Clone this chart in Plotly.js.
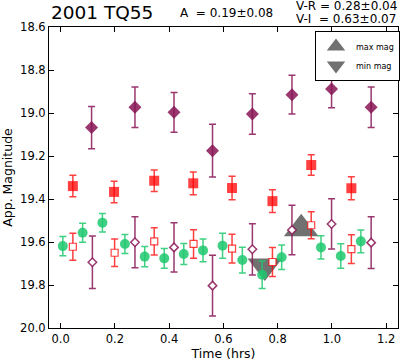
<!DOCTYPE html>
<html>
<head>
<meta charset="utf-8">
<script src="https://cdn.plot.ly/plotly-3.0.1.min.js"></script>
<style>html,body{margin:0;padding:0;background:#fff;}#chart{width:400px;height:362px;}</style>
</head>
<body>
<div id="chart"></div>
<script>
// Time (hrs) and apparent magnitudes
var tFilledDiamond = [0.114, 0.274, 0.418, 0.560, 0.707, 0.853, 0.999, 1.145];
var magFilledDiamond = [19.068, 18.973, 18.997, 19.175, 19.005, 18.915, 18.888, 18.973];
var errFilledDiamond = [0.098, 0.094, 0.092, 0.123, 0.094, 0.090, 0.088, 0.094];

var tFilledSquare = [0.045, 0.197, 0.345, 0.489, 0.632, 0.781, 0.924, 1.072];
var magFilledSquare = [19.340, 19.367, 19.315, 19.327, 19.349, 19.410, 19.242, 19.350];
var errFilledSquare = [0.050, 0.050, 0.050, 0.053, 0.055, 0.053, 0.048, 0.053];

var tOpenSquare = [0.045, 0.199, 0.345, 0.490, 0.632, 0.781, 0.924, 1.072];
var magOpenSquare = [19.622, 19.650, 19.597, 19.609, 19.631, 19.693, 19.522, 19.633];
var errOpenSquare = [0.063, 0.064, 0.063, 0.066, 0.067, 0.067, 0.063, 0.067];

var tOpenDiamond = [0.117, 0.274, 0.418, 0.560, 0.707, 0.853, 0.999, 1.145];
var magOpenDiamond = [19.694, 19.601, 19.625, 19.803, 19.634, 19.544, 19.516, 19.603];
var errOpenDiamond = [0.122, 0.119, 0.115, 0.141, 0.119, 0.115, 0.117, 0.120];

var tCircle = [0.008, 0.081, 0.154, 0.237, 0.310, 0.382, 0.454, 0.525, 0.597, 0.670, 0.743, 0.815, 0.960, 1.033, 1.107];
var magCircle = [19.619, 19.557, 19.510, 19.609, 19.668, 19.676, 19.656, 19.639, 19.617, 19.684, 19.752, 19.671, 19.625, 19.665, 19.597];
var errCircle = [0.045, 0.044, 0.043, 0.044, 0.047, 0.046, 0.049, 0.053, 0.058, 0.060, 0.064, 0.057, 0.054, 0.057, 0.053];

var tMax = [0.887], magMax = [19.538];
var tMin = [0.753], magMin = [19.712];

var xTicks = [0.0, 0.2, 0.4, 0.6, 0.8, 1.0, 1.2];
var yTicks = [18.6, 18.8, 19.0, 19.2, 19.4, 19.6, 19.8, 20.0];

var titleText = '2001 TQ55';
var ampText = 'A  = 0.19\u00b10.08';
var vrText = 'V-R = 0.28\u00b10.04';
var viText = 'V-I  = 0.63\u00b10.07';

var purple = 'rgba(135,20,85,0.85)';
var red = 'rgba(255,0,0,0.75)';
var green = 'rgba(30,200,110,0.85)';
var grey = 'rgba(105,105,105,0.95)';

function eb(arr, color) {
  return {type: 'data', array: arr, visible: true, color: color, thickness: 1.5, width: 3.5};
}

var traces = [
  {x: tMax, y: magMax, mode: 'markers', name: 'max mag', showlegend: true,
   marker: {symbol: 'triangle-up', size: 30, color: grey}},
  {x: tMin, y: magMin, mode: 'markers', name: 'min mag', showlegend: true,
   marker: {symbol: 'triangle-down', size: 30, color: grey}},
  {x: tFilledDiamond, y: magFilledDiamond, mode: 'markers', showlegend: false,
   error_y: eb(errFilledDiamond, purple),
   marker: {symbol: 'diamond', size: 10, color: purple}},
  {x: tFilledSquare, y: magFilledSquare, mode: 'markers', showlegend: false,
   error_y: eb(errFilledSquare, red),
   marker: {symbol: 'square', size: 10, color: red}},
  {x: tOpenDiamond, y: magOpenDiamond, mode: 'markers', showlegend: false,
   error_y: eb(errOpenDiamond, purple),
   marker: {symbol: 'diamond', size: 6.5, color: 'white', line: {color: purple, width: 1.5}}},
  {x: tOpenSquare, y: magOpenSquare, mode: 'markers', showlegend: false,
   error_y: eb(errOpenSquare, red),
   marker: {symbol: 'square', size: 7, color: 'white', line: {color: red, width: 1.2}}},
  {x: tCircle, y: magCircle, mode: 'markers', showlegend: false,
   error_y: eb(errCircle, green),
   marker: {symbol: 'circle', size: 10, color: green}}
];

var fontFam = 'DejaVu Sans, sans-serif';
var axisCommon = {
  showgrid: false, zeroline: false, showline: true, linecolor: 'black', linewidth: 1,
  mirror: 'ticks', ticks: 'inside', ticklen: 5, tickcolor: 'black', tickwidth: 1,
  tickfont: {family: fontFam, size: 11.5, color: 'black'}
};

var layout = {
  width: 400, height: 362, autosize: false,
  margin: {l: 49, r: 1, t: 27, b: 34},
  paper_bgcolor: 'white', plot_bgcolor: 'white',
  font: {family: fontFam, color: 'black'},
  xaxis: Object.assign({}, axisCommon, {
    range: [-0.043, 1.244], tickvals: xTicks, ticktext: xTicks.map(function(v){return v.toFixed(1);}),
    title: {text: 'Time (hrs)', font: {family: fontFam, size: 12.5}, standoff: 2}
  }),
  yaxis: Object.assign({}, axisCommon, {
    range: [20.0, 18.6], tickvals: yTicks, ticktext: yTicks.map(function(v){return v.toFixed(1);}),
    title: {text: 'App. Magnitude', font: {family: fontFam, size: 12.5}, standoff: 4}
  }),
  legend: {
    x: 1.004, y: 0.987, xanchor: 'right', yanchor: 'top',
    bgcolor: 'white', bordercolor: 'black', borderwidth: 1,
    font: {family: fontFam, size: 8}, itemwidth: 30, tracegroupgap: 0
  },
  annotations: [
    {text: titleText, xref: 'paper', yref: 'paper', x: 0, y: 1 + 14/301, xanchor: 'left', yanchor: 'middle',
     showarrow: false, font: {family: fontFam, size: 18.5}},
    {text: ampText, xref: 'paper', yref: 'paper', x: (227-49)/350, y: 1 + 14/301, xanchor: 'center', yanchor: 'middle',
     showarrow: false, font: {family: fontFam, size: 12}},
    {text: vrText, xref: 'paper', yref: 'paper', x: (294.7-49)/350, y: 1 + 21/301, xanchor: 'left', yanchor: 'middle',
     showarrow: false, font: {family: fontFam, size: 12}},
    {text: viText, xref: 'paper', yref: 'paper', x: (294.7-49)/350, y: 1 + 7.5/301, xanchor: 'left', yanchor: 'middle',
     showarrow: false, font: {family: fontFam, size: 12}}
  ]
};

Plotly.newPlot('chart', traces, layout, {displayModeBar: false, staticPlot: true});
</script>
</body>
</html>
